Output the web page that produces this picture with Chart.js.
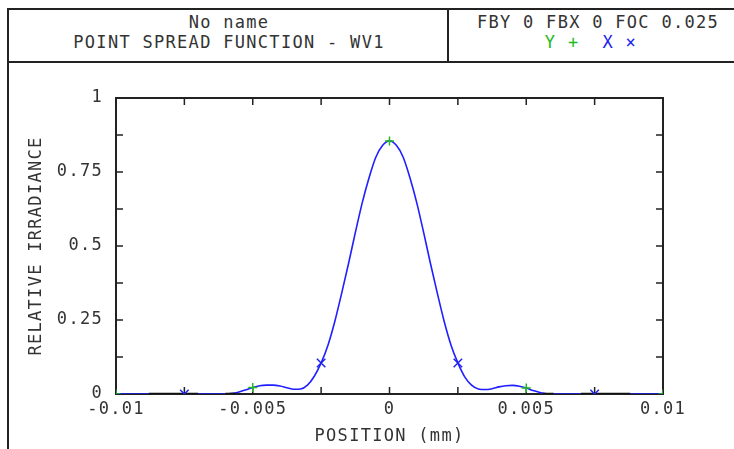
<!DOCTYPE html>
<html>
<head>
<meta charset="utf-8">
<script src="https://cdn.jsdelivr.net/npm/chart.js@4/dist/chart.umd.min.js"></script>
<style>
  html, body { margin: 0; padding: 0; background: #fff; }
  body { width: 734px; height: 449px; position: relative; overflow: hidden; }
  #frame { position: absolute; left: 7px; top: 8px; width: 740px; height: 460px;
           border-left: 2px solid #222; border-top: 2px solid #222; box-sizing: border-box; }
  #hdr { position: absolute; left: 7px; top: 8px; width: 740px; height: 55px;
         border-bottom: 2px solid #222; box-sizing: border-box; }
  #divider { position: absolute; left: 447px; top: 8px; width: 2px; height: 55px; background: #222; }
  .t { position: absolute; font-family: "DejaVu Sans Mono", monospace; font-size: 17px;
       letter-spacing: 1.3px; color: #333; white-space: pre; line-height: 20px;
       transform: translate(-50%, -50%); }
  #c { position: absolute; left: 0; top: 0; }
</style>
</head>
<body>
<div id="frame"></div>
<div id="hdr"></div>
<div id="divider"></div>
<div class="t" style="left:229px; top:22px;">No name</div>
<div class="t" style="left:229px; top:42px;">POINT SPREAD FUNCTION - WV1</div>
<div class="t" style="left:598px; top:22px;">FBY 0 FBX 0 FOC 0.025</div>
<div class="t" style="left:591px; top:42px;"><span style="color:#22bb22">Y +</span>  <span style="color:#2222ee">X ×</span></div>
<canvas id="c" width="734" height="449"></canvas>
<script>
// ---- data ----
const positionsMm = [
  -0.01, -0.009, -0.008, -0.007, -0.006,
  -0.00575, -0.0055, -0.00525, -0.005, -0.00475, -0.0045, -0.00425, -0.004,
  -0.00375, -0.0035, -0.00325, -0.003, -0.00275, -0.0025, -0.00225, -0.002,
  -0.00175, -0.0015, -0.00125, -0.001, -0.00075, -0.0005, -0.00025,
  0,
  0.00025, 0.0005, 0.00075, 0.001, 0.00125, 0.0015, 0.00175,
  0.002, 0.00225, 0.0025, 0.00275, 0.003, 0.00325, 0.0035, 0.00375,
  0.004, 0.00425, 0.0045, 0.00475, 0.005, 0.00525, 0.0055, 0.00575,
  0.006, 0.007, 0.008, 0.009, 0.01
];
const irradiance = [
  0, 0, 0, 0, 0,
  0.002, 0.007, 0.014, 0.022, 0.028, 0.030, 0.030, 0.027,
  0.021, 0.016, 0.017, 0.030, 0.060, 0.105, 0.165, 0.245,
  0.34, 0.44, 0.545, 0.645, 0.73, 0.80, 0.84,
  0.855,
  0.84, 0.80, 0.73, 0.645, 0.545, 0.44, 0.34,
  0.245, 0.165, 0.105, 0.058, 0.030, 0.017, 0.015, 0.018,
  0.024, 0.028, 0.029, 0.026, 0.020, 0.012, 0.005, 0.001,
  0, 0, 0, 0, 0
];
const yMarkerPos = [-0.01, -0.005, 0, 0.005, 0.01];
const yMarkerVal = [0, 0.022, 0.855, 0.020, 0];
const xMarkerPos = [-0.0075, -0.0025, 0.0025, 0.0075];
const xMarkerVal = [0, 0.105, 0.105, 0];
const baseSegPos = [-0.0088, -0.007, null, -0.006, -0.0056, null, 0.0056, 0.006, null, 0.007, 0.0088];
const baseSegVal = [0, 0, null, 0, 0, null, 0, 0, null, 0, 0];

const xTickValues = [-0.01, -0.005, 0, 0.005, 0.01];
const xTickLabels = ['-0.01', '-0.005', '0', '0.005', '0.01'];
const yTickValues = [0, 0.25, 0.5, 0.75, 1];
const yTickLabels = ['0', '0.25', '0.5', '0.75', '1'];
const xTickMarks = [-0.0075, -0.005, -0.0025, 0, 0.0025, 0.005, 0.0075];
const yTickMarks = [0.125, 0.25, 0.375, 0.5, 0.625, 0.75, 0.875];

const pts = (xs, ys) => xs.map((x, i) => (x === null ? {x: NaN, y: null} : {x: x, y: ys[i]}));

const FONT = { family: '"DejaVu Sans Mono", monospace', size: 17 };
const INK = '#333';

const framePlugin = {
  id: 'frame',
  beforeDraw(chart) { chart.ctx.letterSpacing = '1.3px'; },
  beforeDatasetsDraw(chart) {
    const {ctx, chartArea: a, scales} = chart;
    ctx.save();
    ctx.strokeStyle = '#222';
    ctx.lineWidth = 2;
    ctx.strokeRect(a.left, a.top, a.right - a.left, a.bottom - a.top);
    ctx.lineWidth = 1.5;
    ctx.beginPath();
    yTickMarks.forEach(v => {
      const y = scales.y.getPixelForValue(v);
      ctx.moveTo(a.left, y); ctx.lineTo(a.left + 7, y);
      ctx.moveTo(a.right, y); ctx.lineTo(a.right - 7, y);
    });
    xTickMarks.forEach(v => {
      const x = scales.x.getPixelForValue(v);
      ctx.moveTo(x, a.bottom); ctx.lineTo(x, a.bottom - 7);
      ctx.moveTo(x, a.top); ctx.lineTo(x, a.top + 7);
    });
    ctx.stroke();
    ctx.restore();
  }
};

new Chart(document.getElementById('c'), {
  type: 'line',
  data: {
    datasets: [
      { label: 'Y', data: pts(yMarkerPos, yMarkerVal), showLine: false, order: 0,
        pointStyle: 'cross', pointRadius: 4.5, borderColor: '#22bb22', borderWidth: 1.5 },
      { label: 'X', data: pts(xMarkerPos, xMarkerVal), showLine: false, order: 1,
        pointStyle: 'crossRot', pointRadius: 6, borderColor: '#2222ee', borderWidth: 1.5 },
      { label: 'base', data: pts(baseSegPos, baseSegVal), order: 2, spanGaps: false,
        borderColor: '#111', borderWidth: 2.5, pointRadius: 0 },
      { label: 'PSF', data: pts(positionsMm, irradiance), order: 3,
        borderColor: '#1f1fff', borderWidth: 1.6, pointRadius: 0,
        cubicInterpolationMode: 'monotone' }
    ]
  },
  options: {
    responsive: false,
    devicePixelRatio: 1,
    animation: false,
    events: [],
    layout: { padding: { left: 0, top: 98, right: 71, bottom: 0 } },
    plugins: { legend: { display: false }, tooltip: { enabled: false } },
    scales: {
      x: {
        type: 'linear', min: -0.01, max: 0.01,
        grid: { display: false, drawTicks: false }, border: { display: false },
        afterBuildTicks: s => { s.ticks = xTickValues.map(v => ({ value: v })); },
        afterFit: s => { s.height = 55; },
        ticks: { font: FONT, color: INK, padding: 5, maxRotation: 0,
                 callback: v => xTickLabels[xTickValues.indexOf(v)] },
        title: { display: true, text: 'POSITION (mm)', font: FONT, color: INK,
                 padding: { top: 0, bottom: 2 } }
      },
      y: {
        min: 0, max: 1,
        grid: { display: false, drawTicks: false }, border: { display: false },
        afterBuildTicks: s => { s.ticks = yTickValues.map(v => ({ value: v })); },
        afterFit: s => { s.width = 116; },
        ticks: { font: FONT, color: INK, padding: 13,
                 callback: v => yTickLabels[yTickValues.indexOf(v)] },
        title: { display: true, text: 'RELATIVE IRRADIANCE', font: FONT, color: INK,
                 padding: { top: 26, bottom: 0 } }
      }
    }
  },
  plugins: [framePlugin]
});
</script>
</body>
</html>
